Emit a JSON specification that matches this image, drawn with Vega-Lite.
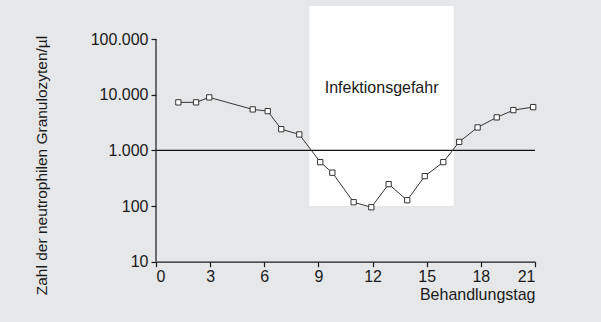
{
  "$schema": "https://vega.github.io/schema/vega-lite/v6.json",
  "autosize": {"type": "none"},
  "width": 379,
  "height": 255.7,
  "padding": {"left": 156, "top": 6, "right": 66, "bottom": 60},
  "background": "#e6e7e8",
  "config": {
    "view": {"stroke": null},
    "font": "Liberation Sans",
    "axis": {"labelFont": "Liberation Sans", "titleFont": "Liberation Sans", "labelColor": "#1a1a1a", "titleColor": "#1a1a1a", "grid": false}
  },
  "datasets": {
    "counts": [
      {"tag": 1.24, "zahl": 7280},
      {"tag": 2.22, "zahl": 7280},
      {"tag": 2.95, "zahl": 8940},
      {"tag": 5.36, "zahl": 5440},
      {"tag": 6.19, "zahl": 5070},
      {"tag": 6.94, "zahl": 2400},
      {"tag": 7.94, "zahl": 1930},
      {"tag": 9.1, "zahl": 614},
      {"tag": 9.77, "zahl": 397},
      {"tag": 10.95, "zahl": 117},
      {"tag": 11.93, "zahl": 95},
      {"tag": 12.89, "zahl": 247},
      {"tag": 13.92, "zahl": 127},
      {"tag": 14.89, "zahl": 344},
      {"tag": 15.92, "zahl": 614},
      {"tag": 16.8, "zahl": 1420},
      {"tag": 17.82, "zahl": 2580},
      {"tag": 18.88, "zahl": 3910},
      {"tag": 19.8, "zahl": 5280},
      {"tag": 20.9, "zahl": 5980}
    ],
    "zone": [{"von": 8.5, "bis": 16.5, "unten": 100, "oben": 391700, "mitte": 12.5, "textwert": 13100, "label": "Infektionsgefahr"}],
    "grenze": [{"von": 0, "bis": 21, "wert": 1000}],
    "yachse": [{"x": 0, "unten": 10, "oben": 100000}]
  },
  "layer": [
    {
      "data": {"name": "zone"},
      "mark": {"type": "rect", "color": "white"},
      "encoding": {
        "x": {"field": "von", "type": "quantitative", "scale": {"domain": [0, 21], "nice": false, "zero": false},
          "axis": {"values": [0, 3, 6, 9, 12, 15, 18, 21], "domainColor": "#1a1a1a", "domainWidth": 1.2, "tickColor": "#1a1a1a", "tickSize": 5, "tickWidth": 1.2, "labelFontSize": 16, "labelPadding": 2, "title": "Behandlungstag", "titleFontSize": 16, "titleFontWeight": "normal", "titleAnchor": "end", "titlePadding": 2}},
        "x2": {"field": "bis"},
        "y": {"field": "unten", "type": "quantitative", "scale": {"type": "log", "domain": [10, 391700], "nice": false},
          "axis": {"values": [10, 100, 1000, 10000, 100000], "domain": false, "tickColor": "#1a1a1a", "tickSize": 5, "tickWidth": 1.2, "labelFontSize": 16, "labelPadding": 3, "labelExpr": "replace(format(datum.value, ','), ',', '.')", "title": "Zahl der neutrophilen Granulozyten/µl", "titleFontSize": 15.5, "titleFontWeight": "normal", "titleAngle": -90, "titleAlign": "center", "titleBaseline": "alphabetic", "titleX": -110, "titleY": 159}},
        "y2": {"field": "oben"}
      }
    },
    {
      "data": {"name": "zone"},
      "mark": {"type": "text", "fontSize": 16, "color": "#1a1a1a", "align": "center", "baseline": "middle"},
      "encoding": {
        "x": {"field": "mitte", "type": "quantitative"},
        "y": {"field": "textwert", "type": "quantitative"},
        "text": {"field": "label"}
      }
    },
    {
      "data": {"name": "yachse"},
      "mark": {"type": "rule", "color": "#1a1a1a", "strokeWidth": 1.2},
      "encoding": {
        "x": {"field": "x", "type": "quantitative"},
        "y": {"field": "unten", "type": "quantitative"},
        "y2": {"field": "oben"}
      }
    },
    {
      "data": {"name": "grenze"},
      "mark": {"type": "rule", "color": "#111111", "strokeWidth": 1.4},
      "encoding": {
        "x": {"field": "von", "type": "quantitative"},
        "x2": {"field": "bis"},
        "y": {"field": "wert", "type": "quantitative"}
      }
    },
    {
      "data": {"name": "counts"},
      "mark": {"type": "line", "color": "#333333", "strokeWidth": 1},
      "encoding": {
        "x": {"field": "tag", "type": "quantitative"},
        "y": {"field": "zahl", "type": "quantitative"}
      }
    },
    {
      "data": {"name": "counts"},
      "mark": {"type": "point", "shape": "square", "filled": true, "fill": "white", "stroke": "#333333", "strokeWidth": 1, "size": 28, "opacity": 1},
      "encoding": {
        "x": {"field": "tag", "type": "quantitative"},
        "y": {"field": "zahl", "type": "quantitative"}
      }
    }
  ]
}
